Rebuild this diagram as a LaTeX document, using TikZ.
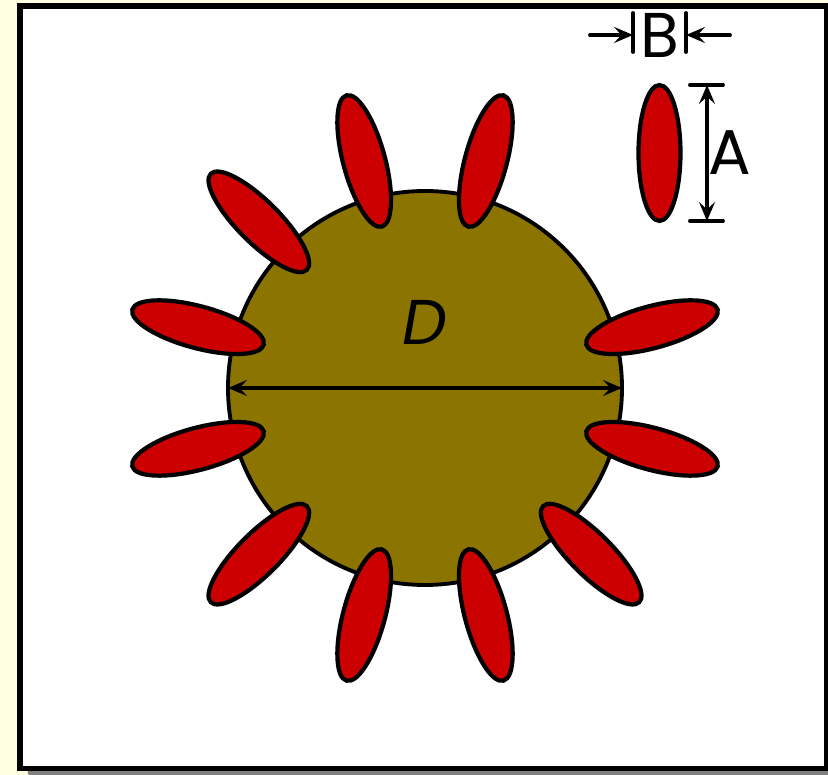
\documentclass[tikz,border=0pt]{standalone}
\usepackage{fontspec}
\setmainfont{Poppins}
\usetikzlibrary{arrows.meta,shapes.geometric}
\definecolor{paper}{RGB}{255,255,226}
\definecolor{hubfill}{RGB}{139,117,0}
\definecolor{petalred}{RGB}{204,0,0}

\begin{document}
\begin{tikzpicture}[>={Stealth[length=3.8mm,width=3.2mm,inset=1.5mm]},line cap=round,
  petal/.style={ellipse,draw,fill=petalred,line width=2.4pt,minimum width=2.72cm,minimum height=0.84cm,inner sep=0pt},
  dimline/.style={line width=2.2pt},
  dimlabel/.style={font=\fontsize{36}{40}\selectfont,inner sep=0pt}]
\useasboundingbox (0,0) rectangle (16.56,15.5);
\fill[paper] (0,0) rectangle (16.56,15.5);
% frame with its shadow
\draw[gray,line width=2.8pt] (0.6,0.05) -- (16.7,0.05);
\draw[fill=white,line width=3pt] (0.4,0.13) rectangle (16.54,15.38);
% hub and petals
\node[circle,draw,fill=hubfill,line width=2.2pt,minimum size=7.88cm,inner sep=0pt,outer sep=0pt] (hub) at (8.5,7.74) {};
\foreach \a in {15,75,105,135,165,195,225,255,285,315,345}
  \node[petal,rotate=\a] (petal\a) at ([shift={(\a:4.7)}]hub.center) {};
\draw[<->,dimline] (hub.west) -- (hub.east);
\node[dimlabel] (dlabel) at (8.5,9.06) {\textit{D}};
% sample petal with its sizes
\node[petal,rotate=90] (sample) at (13.19,12.44) {};
\coordinate (atop) at (14.14,13.8);
\coordinate (abot) at (14.14,11.08);
\draw[dimline] (13.8,13.8) -- (14.46,13.8);
\draw[dimline] (13.8,11.08) -- (14.46,11.08);
\draw[<->,dimline] (atop) -- (abot);
\node[dimlabel] (alabel) at (14.6,12.44) {A};
\coordinate (bleft) at (11.8,14.8);
\coordinate (btickl) at (12.66,14.8);
\coordinate (bright) at (14.6,14.8);
\coordinate (btickr) at (13.72,14.8);
\draw[dimline] (12.66,14.46) -- (12.66,15.24);
\draw[dimline] (13.72,14.46) -- (13.72,15.24);
\draw[->,dimline] (bleft) -- (btickl);
\draw[->,dimline] (bright) -- (btickr);
\node[dimlabel] (blabel) at (13.19,14.8) {B};
\end{tikzpicture}
\end{document}
